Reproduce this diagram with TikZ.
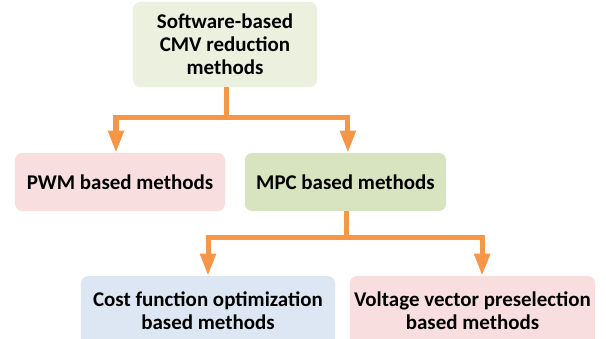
\documentclass[tikz,border=0pt]{standalone}
\usepackage{fontspec}
\setmainfont{Carlito}
\usetikzlibrary{arrows.meta}
\definecolor{topgreen}{HTML}{EBF1DE}
\definecolor{pinkbox}{HTML}{F9DEDF}
\definecolor{mpcgreen}{HTML}{D8E4BF}
\definecolor{bluebox}{HTML}{DCE7F3}
\definecolor{linkorange}{HTML}{F79646}
\begin{document}
\begin{tikzpicture}[x=0.025cm, y=-0.025cm,
      box/.style={rounded corners=0.18cm, inner sep=0pt, align=center, font=\fontsize{14.9}{16.4}\selectfont\bfseries},
      arr/.style={-{Triangle[width=0.375cm, length=0.55cm]}, line width=0.125cm, draw=linkorange}
    ]
      \useasboundingbox (0,0) rectangle (606,338);
      \node[box, fill=topgreen, minimum width=4.6cm, minimum height=2.125cm] (soft) at (225,44.5) {Software-based\\CMV reduction\\methods};
      \node[box, fill=pinkbox, minimum width=5.25cm, minimum height=1.45cm] (pwm) at (120,182) {PWM based methods};
      \node[box, fill=mpcgreen, minimum width=5.03cm, minimum height=1.45cm] (mpc) at (345.5,182) {MPC based methods};
      \node[box, fill=bluebox, minimum width=6.35cm, minimum height=1.75cm] (cost) at (208,311) {Cost function optimization\\based methods};
      \node[box, fill=pinkbox, minimum width=6.13cm, minimum height=1.75cm] (volt) at (472.5,311) {Voltage vector preselection\\based methods};
      \coordinate (j1) at (226,117);
      \coordinate (j2) at (346,237);
      \draw[line width=0.125cm, draw=linkorange] (soft.south -| j1)--(j1);
      \draw[arr] (j1) -| ([xshift=-0.1cm]pwm.north);
      \draw[arr] (j1) -| ([xshift=0.06cm]mpc.north);
      \draw[line width=0.125cm, draw=linkorange] (mpc.south -| j2)--(j2);
      \draw[arr] (j2) -| (cost.north);
      \draw[arr] (j2) -| ([xshift=0.24cm]volt.north);
    \end{tikzpicture}
\end{document}
